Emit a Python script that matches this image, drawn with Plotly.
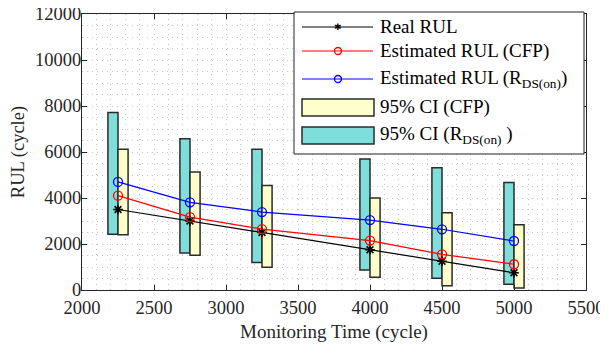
import plotly.graph_objects as go

# ---- data ----
time = [2250, 2750, 3250, 4000, 4500, 5000]
real_rul = [3500, 3000, 2500, 1750, 1250, 750]
est_cfp = [4100, 3170, 2650, 2150, 1550, 1120]
est_rds = [4700, 3810, 3390, 3040, 2640, 2130]
ci_cfp_low = [2400, 1510, 990, 550, 190, 90]
ci_cfp_high = [6120, 5130, 4540, 4000, 3360, 2840]
ci_rds_low = [2420, 1610, 1200, 870, 510, 250]
ci_rds_high = [7720, 6580, 6120, 5700, 5320, 4670]

FONT = "Liberation Serif"
CYAN = "#7FDDDA"
YELLOW = "#FFFFCC"
EDGE = "#2b2b2b"
BW = 70  # bar width in x units

fig = go.Figure()

fig.add_trace(go.Bar(
    x=time, y=[h - l for h, l in zip(ci_rds_high, ci_rds_low)], base=ci_rds_low,
    width=BW, offset=-BW, marker=dict(color=CYAN, line=dict(color=EDGE, width=1.5)),
    name="95% CI (RDS(on))", showlegend=False))
fig.add_trace(go.Bar(
    x=time, y=[h - l for h, l in zip(ci_cfp_high, ci_cfp_low)], base=ci_cfp_low,
    width=BW, offset=0, marker=dict(color=YELLOW, line=dict(color=EDGE, width=1.5)),
    name="95% CI (CFP)", showlegend=False))

fig.add_trace(go.Scatter(x=time, y=real_rul, mode="lines+markers",
    line=dict(color="black", width=1.2),
    marker=dict(symbol="asterisk-open", size=8, line=dict(color="black", width=1.5)),
    name="Real RUL", showlegend=False))
fig.add_trace(go.Scatter(x=time, y=est_cfp, mode="lines+markers",
    line=dict(color="#FF0000", width=1.2),
    marker=dict(symbol="circle-open", size=9, color="#FF0000", line=dict(width=1.3)),
    name="Estimated RUL (CFP)", showlegend=False))
fig.add_trace(go.Scatter(x=time, y=est_rds, mode="lines+markers",
    line=dict(color="#0000FF", width=1.2),
    marker=dict(symbol="circle-open", size=9, color="#0000FF", line=dict(width=1.3)),
    name="Estimated RUL (RDS(on))", showlegend=False))

# page body adds an 8px offset; figure sized to fit the 608x345 window
OFF = 8
W, H = 608 - OFF, 345 - OFF
L, R, T, B = 82 - OFF, 22, 14 - OFF, 55
PW, PH = W - L - R, H - T - B


def px(x):
    return (x - OFF - L) / PW


def py(y):
    return (H - B - (y - OFF)) / PH


shapes = []
annotations = []
# legend box
shapes.append(dict(type="rect", xref="paper", yref="paper",
                   x0=px(294), x1=px(584), y0=py(154), y1=py(12),
                   fillcolor="white", line=dict(color="#222", width=1)))
line_rows = [(27, "black", "Real RUL"),
             (51, "#FF0000", "Estimated RUL (CFP)"),
             (79, "#0000FF", "Estimated RUL (R<sub>DS(on)</sub>)")]
for yy, col, txt in line_rows:
    shapes.append(dict(type="line", xref="paper", yref="paper",
                       x0=px(302), x1=px(373), y0=py(yy), y1=py(yy),
                       line=dict(color=col, width=1.2)))
    if col != "black":
        shapes.append(dict(type="circle", xref="paper", yref="paper",
                           x0=px(334.5), x1=px(341.5), y0=py(yy + 3.5), y1=py(yy - 3.5),
                           line=dict(color=col, width=1.3)))
    annotations.append(dict(xref="paper", yref="paper", x=px(378), y=py(yy),
                            xanchor="left", yanchor="middle", text=txt, showarrow=False,
                            font=dict(family=FONT, size=19, color="black")))
# asterisk marker in legend
annotations.append(dict(xref="paper", yref="paper", x=px(338), y=py(27),
                        xanchor="center", yanchor="middle", text="✱", showarrow=False,
                        font=dict(family="DejaVu Sans", size=9, color="black")))
rect_rows = [(99, 116, YELLOW, "95% CI (CFP)"),
             (127, 144, CYAN, "95% CI (R<sub>DS(on)</sub> )")]
for y0, y1, col, txt in rect_rows:
    shapes.append(dict(type="rect", xref="paper", yref="paper",
                       x0=px(302), x1=px(374), y0=py(y1), y1=py(y0),
                       fillcolor=col, line=dict(color=EDGE, width=1.5)))
    annotations.append(dict(xref="paper", yref="paper", x=px(378), y=py((y0 + y1) / 2),
                            xanchor="left", yanchor="middle", text=txt, showarrow=False,
                            font=dict(family=FONT, size=19, color="black")))

GRID = "#c8c8c8"
axis_common = dict(showline=True, linecolor="#262626", linewidth=1.2, mirror="ticks",
                   ticks="inside", ticklen=5, tickcolor="#262626", automargin=False,
                   showgrid=True, gridcolor=GRID, griddash="1px,4px", gridwidth=1,
                   zeroline=False, tickformat="d", ticklabeloverflow="allow",
                   tickfont=dict(family=FONT, size=18.5, color="#262626"))

fig.update_layout(
    width=W, height=H, margin=dict(l=L, r=R, t=T, b=B),
    font=dict(family=FONT, size=18, color="#262626"),
    paper_bgcolor="white", plot_bgcolor="white",
    barmode="overlay", showlegend=False,
    shapes=shapes, annotations=annotations,
    xaxis=dict(range=[2000, 5500], dtick=500, tick0=2000, ticklabelstandoff=1,
               title=dict(text="Monitoring Time (cycle)", standoff=7,
                          font=dict(family=FONT, size=19, color="#262626")),
               minor=dict(dtick=100, showgrid=True, gridcolor=GRID, griddash="1px,4px"),
               **axis_common),
    yaxis=dict(range=[0, 12000], dtick=2000, tick0=0, ticklabelstandoff=-4,
               title=dict(text="RUL (cycle)", standoff=14,
                          font=dict(family=FONT, size=18.5, color="#262626")),
               minor=dict(dtick=500, showgrid=True, gridcolor=GRID, griddash="1px,4px"),
               **axis_common),
)

fig.write_html("out.html")
